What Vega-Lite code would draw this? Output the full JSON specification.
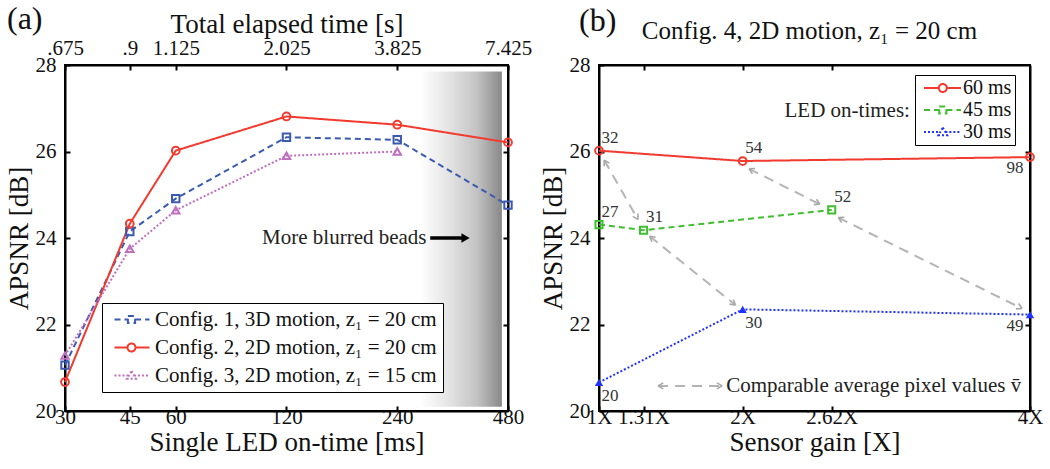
{
  "$schema": "https://vega.github.io/schema/vega-lite/v6.json",
  "background": "white",
  "padding": {"left": 4, "top": 2, "right": 2, "bottom": 2},
  "spacing": 5,
  "resolve": {"scale": {"color": "independent", "shape": "independent", "strokeDash": "independent", "fill": "independent"}, "legend": {"color": "independent", "shape": "independent", "strokeDash": "independent", "fill": "independent"}},
  "config": {
    "font": "Liberation Serif",
    "view": {"stroke": "black", "strokeWidth": 2},
    "axis": {"domainColor": "black", "domainWidth": 2, "tickColor": "black", "tickWidth": 2, "tickSize": -5, "labelColor": "#111", "labelFontSize": 21, "labelFont": "Liberation Serif", "titleFont": "Liberation Serif", "titleFontSize": 27, "titleFontWeight": "normal", "titleColor": "#111", "grid": false, "labelFlush": false, "labelOverlap": false},
    "title": {"font": "Liberation Serif", "fontSize": 32, "fontWeight": "normal", "color": "#111"},
    "legend": {"labelFont": "Liberation Serif", "labelColor": "#111", "labelLimit": 500}
  },
  "datasets": {
    "a": [
      {"ms": 30, "apsnr": 21.06, "cfg": "Config. 1, 3D motion, z₁ = 20 cm"},
      {"ms": 45, "apsnr": 24.15, "cfg": "Config. 1, 3D motion, z₁ = 20 cm"},
      {"ms": 60, "apsnr": 24.91, "cfg": "Config. 1, 3D motion, z₁ = 20 cm"},
      {"ms": 120, "apsnr": 26.33, "cfg": "Config. 1, 3D motion, z₁ = 20 cm"},
      {"ms": 240, "apsnr": 26.27, "cfg": "Config. 1, 3D motion, z₁ = 20 cm"},
      {"ms": 480, "apsnr": 24.76, "cfg": "Config. 1, 3D motion, z₁ = 20 cm"},
      {"ms": 30, "apsnr": 20.67, "cfg": "Config. 2, 2D motion, z₁ = 20 cm"},
      {"ms": 45, "apsnr": 24.33, "cfg": "Config. 2, 2D motion, z₁ = 20 cm"},
      {"ms": 60, "apsnr": 26.02, "cfg": "Config. 2, 2D motion, z₁ = 20 cm"},
      {"ms": 120, "apsnr": 26.81, "cfg": "Config. 2, 2D motion, z₁ = 20 cm"},
      {"ms": 240, "apsnr": 26.62, "cfg": "Config. 2, 2D motion, z₁ = 20 cm"},
      {"ms": 480, "apsnr": 26.21, "cfg": "Config. 2, 2D motion, z₁ = 20 cm"},
      {"ms": 30, "apsnr": 21.28, "cfg": "Config. 3, 2D motion, z₁ = 15 cm"},
      {"ms": 45, "apsnr": 23.75, "cfg": "Config. 3, 2D motion, z₁ = 15 cm"},
      {"ms": 60, "apsnr": 24.64, "cfg": "Config. 3, 2D motion, z₁ = 15 cm"},
      {"ms": 120, "apsnr": 25.9, "cfg": "Config. 3, 2D motion, z₁ = 15 cm"},
      {"ms": 240, "apsnr": 26.0, "cfg": "Config. 3, 2D motion, z₁ = 15 cm"}
    ],
    "b": [
      {"gain": 1, "apsnr": 26.02, "led": "60 ms", "pix": 32},
      {"gain": 2, "apsnr": 25.78, "led": "60 ms", "pix": 54},
      {"gain": 4, "apsnr": 25.87, "led": "60 ms", "pix": 98},
      {"gain": 1, "apsnr": 24.31, "led": "45 ms", "pix": 27},
      {"gain": 1.31, "apsnr": 24.18, "led": "45 ms", "pix": 31},
      {"gain": 2.62, "apsnr": 24.65, "led": "45 ms", "pix": 52},
      {"gain": 1, "apsnr": 20.66, "led": "30 ms", "pix": 20},
      {"gain": 2, "apsnr": 22.35, "led": "30 ms", "pix": 30},
      {"gain": 4, "apsnr": 22.23, "led": "30 ms", "pix": 49}
    ],
    "arrows": [
      {"x1": 1.036, "y1": 25.8, "x2": 1.271, "y2": 24.43},
      {"x1": 1.353, "y1": 24.04, "x2": 1.95, "y2": 22.45},
      {"x1": 2.045, "y1": 25.6, "x2": 2.537, "y2": 24.78},
      {"x1": 2.666, "y1": 24.47, "x2": 3.944, "y2": 22.37},
      {"x1": 1.411, "y1": 20.58, "x2": 1.857, "y2": 20.58}
    ],
    "heads": [
      {"x1": 1.271, "y1": 24.43, "x2": 1.2713, "y2": 24.5687},
      {"x1": 1.271, "y1": 24.43, "x2": 1.235, "y2": 24.5},
      {"x1": 1.036, "y1": 25.8, "x2": 1.0357, "y2": 25.661},
      {"x1": 1.036, "y1": 25.8, "x2": 1.072, "y2": 25.73},
      {"x1": 1.95, "y1": 22.45, "x2": 1.9348, "y2": 22.5792},
      {"x1": 1.95, "y1": 22.45, "x2": 1.9087, "y2": 22.471},
      {"x1": 1.353, "y1": 24.04, "x2": 1.3682, "y2": 23.9108},
      {"x1": 1.353, "y1": 24.04, "x2": 1.3943, "y2": 24.019},
      {"x1": 2.537, "y1": 24.78, "x2": 2.514, "y2": 24.896},
      {"x1": 2.537, "y1": 24.78, "x2": 2.4953, "y2": 24.7719},
      {"x1": 2.045, "y1": 25.6, "x2": 2.068, "y2": 25.484},
      {"x1": 2.045, "y1": 25.6, "x2": 2.0867, "y2": 25.6081},
      {"x1": 3.944, "y1": 22.37, "x2": 3.9208, "y2": 22.4854},
      {"x1": 3.944, "y1": 22.37, "x2": 3.9024, "y2": 22.3611},
      {"x1": 2.666, "y1": 24.47, "x2": 2.6892, "y2": 24.3546},
      {"x1": 2.666, "y1": 24.47, "x2": 2.7076, "y2": 24.4789},
      {"x1": 1.857, "y1": 20.58, "x2": 1.8208, "y2": 20.6494},
      {"x1": 1.857, "y1": 20.58, "x2": 1.8208, "y2": 20.5106},
      {"x1": 1.411, "y1": 20.58, "x2": 1.4472, "y2": 20.5106},
      {"x1": 1.411, "y1": 20.58, "x2": 1.4472, "y2": 20.6494}
    ]
  },
  "hconcat": [
    {
      "width": 443,
      "height": 346,
      "title": {"text": "(a)", "anchor": "start", "frame": "group", "dx": -58, "dy": 26, "offset": 0},
      "resolve": {"axis": {"x": "independent", "y": "independent"}},
      "layer": [
        {
          "data": {"values": [{}]},
          "mark": {"type": "rect", "fill": {"gradient": "linear", "x1": 0, "x2": 1, "y1": 0, "y2": 0, "stops": [{"offset": 0, "color": "#ffffff"}, {"offset": 0.35, "color": "#e4e4e4"}, {"offset": 0.7, "color": "#c2c2c2"}, {"offset": 1, "color": "#888888"}]}},
          "encoding": {
            "x": {"datum": 277, "type": "quantitative", "scale": {"type": "log", "domain": [30, 480], "nice": false}, "axis": null},
            "x2": {"datum": 462},
            "y": {"datum": 20.1, "type": "quantitative", "scale": {"domain": [20, 28], "nice": false, "zero": false}, "axis": null},
            "y2": {"datum": 27.85}
          }
        },
        {
          "data": {"name": "a"},
          "mark": {"type": "line", "strokeWidth": 2},
          "encoding": {
            "x": {"field": "ms", "type": "quantitative", "scale": {"type": "log", "domain": [30, 480], "nice": false}, "axis": {"orient": "bottom", "values": [30, 45, 60, 120, 240, 480], "title": "Single LED on-time [ms]", "labelPadding": 0, "titlePadding": 2}},
            "y": {"field": "apsnr", "type": "quantitative", "scale": {"domain": [20, 28], "nice": false, "zero": false}, "axis": {"orient": "left", "values": [20, 22, 24, 26, 28], "title": "APSNR [dB]", "labelPadding": 14, "titlePadding": 2}},
            "color": {"field": "cfg", "type": "nominal", "scale": {"domain": ["Config. 1, 3D motion, z₁ = 20 cm", "Config. 2, 2D motion, z₁ = 20 cm", "Config. 3, 2D motion, z₁ = 15 cm"], "range": ["#3b5bb0", "#f23a2e", "#bf6fbf"]}},
            "strokeDash": {"field": "cfg", "type": "nominal", "scale": {"domain": ["Config. 1, 3D motion, z₁ = 20 cm", "Config. 2, 2D motion, z₁ = 20 cm", "Config. 3, 2D motion, z₁ = 15 cm"], "range": [[6, 4], [1, 0], [2, 2]]}}
          }
        },
        {
          "data": {"name": "a"},
          "transform": [{"filter": {"field": "ms", "range": [40, 250]}}],
          "mark": {"type": "point", "filled": false, "strokeWidth": 2, "size": 64, "opacity": 0},
          "encoding": {
            "x": {"field": "ms", "type": "quantitative", "axis": null},
            "y": {"field": "apsnr", "type": "quantitative", "axis": null},
            "color": {"field": "cfg", "type": "nominal",
              "legend": {"orient": "none", "legendX": 37, "legendY": 238, "title": null, "labelFontSize": 21, "symbolSize": 64, "symbolStrokeWidth": 2, "symbolOpacity": 1, "labelOffset": 26, "rowPadding": 6, "padding": 6, "strokeColor": "black", "fillColor": "white",
                "encode": {"legend": {"strokeWidth": {"value": 2.5}}, "symbols": {"fill": {"value": "white"}}}}},
            "shape": {"field": "cfg", "type": "nominal", "scale": {"domain": ["Config. 1, 3D motion, z₁ = 20 cm", "Config. 2, 2D motion, z₁ = 20 cm", "Config. 3, 2D motion, z₁ = 15 cm"], "range": ["M-1,0H2.35M4.15,0H7.75M2.35,-0.9H4.15V0.9H2.35Z", "M-1,0H2.25M4.25,0H7.75M4.25,0A1,1 0 1,1 2.25,0A1,1 0 1,1 4.25,0", "M-1,0H2.61M3.89,0H7.75M3.25,-1.1L4.35,0.8H2.15Z"]}, "legend": {"orient": "none", "legendX": 37, "legendY": 238, "title": null}},
            "strokeDash": {"field": "cfg", "type": "nominal", "legend": {"orient": "none", "legendX": 37, "legendY": 238, "title": null}}
          }
        },
        {
          "data": {"name": "a"},
          "transform": [{"filter": {"field": "cfg", "equal": "Config. 1, 3D motion, z₁ = 20 cm"}}],
          "mark": {"type": "point", "shape": "square", "filled": false, "strokeWidth": 2, "size": 55, "opacity": 1, "color": "#3b5bb0"},
          "encoding": {
            "x": {"field": "ms", "type": "quantitative", "axis": {"orient": "top", "values": [30, 45, 60, 120, 240, 480], "labelExpr": "datum.value==30?'.675':datum.value==45?'.9':datum.value==60?'1.125':datum.value==120?'2.025':datum.value==240?'3.825':'7.425'", "title": "Total elapsed time [s]", "labelPadding": 12, "titlePadding": -1}},
            "y": {"field": "apsnr", "type": "quantitative", "axis": {"orient": "right", "values": [22, 24, 26], "labels": false, "title": null}}
          }
        },
        {
          "data": {"name": "a"},
          "transform": [{"filter": {"field": "cfg", "equal": "Config. 2, 2D motion, z₁ = 20 cm"}}],
          "mark": {"type": "point", "shape": "circle", "filled": false, "strokeWidth": 2, "size": 60, "opacity": 1, "color": "#f23a2e"},
          "encoding": {
            "x": {"field": "ms", "type": "quantitative", "axis": null},
            "y": {"field": "apsnr", "type": "quantitative", "axis": null}
          }
        },
        {
          "data": {"name": "a"},
          "transform": [{"filter": {"field": "cfg", "equal": "Config. 3, 2D motion, z₁ = 15 cm"}}],
          "mark": {"type": "point", "shape": "triangle-up", "filled": false, "strokeWidth": 2, "size": 55, "opacity": 1, "color": "#bf6fbf"},
          "encoding": {
            "x": {"field": "ms", "type": "quantitative", "axis": null},
            "y": {"field": "apsnr", "type": "quantitative", "axis": null}
          }
        },
        {
          "data": {"values": [{"t": "More blurred beads"}]},
          "mark": {"type": "text", "align": "left", "baseline": "middle", "fontSize": 21, "color": "#222"},
          "encoding": {
            "x": {"datum": 103, "type": "quantitative", "axis": null},
            "y": {"datum": 24.0, "type": "quantitative", "axis": null},
            "text": {"field": "t"}
          }
        },
        {
          "data": {"values": [{}]},
          "mark": {"type": "rule", "strokeWidth": 3.5, "color": "black"},
          "encoding": {
            "x": {"datum": 295, "type": "quantitative", "axis": null},
            "x2": {"datum": 362},
            "y": {"datum": 24.0, "type": "quantitative", "axis": null}
          }
        },
        {
          "data": {"values": [{}]},
          "mark": {"type": "point", "shape": "triangle-right", "filled": true, "color": "black", "size": 90, "opacity": 1},
          "encoding": {
            "x": {"datum": 368, "type": "quantitative", "axis": null},
            "y": {"datum": 24.0, "type": "quantitative", "axis": null}
          }
        }
      ]
    },
    {
      "width": 431,
      "height": 346,
      "title": {"text": "(b)", "anchor": "start", "frame": "group", "dx": -20, "dy": 20, "offset": 0},
      "resolve": {"axis": {"x": "independent", "y": "independent"}},
      "layer": [
        {
          "data": {"name": "arrows"},
          "mark": {"type": "rule", "strokeWidth": 2, "color": "#b4b4b4", "strokeDash": [10, 7]},
          "encoding": {
            "x": {"field": "x1", "type": "quantitative", "scale": {"domain": [1, 4], "nice": false, "zero": false}, "axis": null},
            "y": {"field": "y1", "type": "quantitative", "scale": {"domain": [20, 28], "nice": false, "zero": false}, "axis": null},
            "x2": {"field": "x2"},
            "y2": {"field": "y2"}
          }
        },
        {
          "data": {"name": "heads"},
          "mark": {"type": "rule", "strokeWidth": 1.6, "color": "#a8a8a8"},
          "encoding": {
            "x": {"field": "x1", "type": "quantitative", "axis": null},
            "y": {"field": "y1", "type": "quantitative", "axis": null},
            "x2": {"field": "x2"},
            "y2": {"field": "y2"}
          }
        },
        {
          "data": {"values": [{"t": "Comparable average pixel values v̄"}]},
          "mark": {"type": "text", "align": "left", "baseline": "middle", "fontSize": 21, "color": "#222"},
          "encoding": {
            "x": {"datum": 1.885, "type": "quantitative", "axis": null},
            "y": {"datum": 20.58, "type": "quantitative", "axis": null},
            "text": {"field": "t"}
          }
        },
        {
          "data": {"name": "b"},
          "mark": {"type": "line", "strokeWidth": 2},
          "encoding": {
            "x": {"field": "gain", "type": "quantitative", "scale": {"domain": [1, 4], "nice": false, "zero": false}, "axis": {"orient": "bottom", "values": [1, 1.31, 2, 2.62, 4], "labelExpr": "datum.value + 'X'", "title": "Sensor gain [X]", "labelPadding": 0, "titlePadding": 2}},
            "y": {"field": "apsnr", "type": "quantitative", "scale": {"domain": [20, 28], "nice": false, "zero": false}, "axis": {"orient": "left", "values": [20, 22, 24, 26, 28], "title": "APSNR [dB]", "labelPadding": 14, "titlePadding": 2}},
            "color": {"field": "led", "type": "nominal", "scale": {"domain": ["60 ms", "45 ms", "30 ms"], "range": ["#f23a2e", "#3fbf2e", "#2233ff"]}},
            "strokeDash": {"field": "led", "type": "nominal", "scale": {"domain": ["60 ms", "45 ms", "30 ms"], "range": [[1, 0], [6, 4], [2, 2]]}}
          }
        },
        {
          "data": {"name": "b"},
          "transform": [{"filter": {"field": "gain", "range": [1.2, 2.7]}}],
          "mark": {"type": "point", "filled": false, "strokeWidth": 2, "size": 64, "opacity": 0},
          "encoding": {
            "x": {"field": "gain", "type": "quantitative", "axis": null},
            "y": {"field": "apsnr", "type": "quantitative", "axis": null},
            "color": {"field": "led", "type": "nominal",
              "legend": {"orient": "none", "legendX": 316, "legendY": 10, "title": null, "labelFontSize": 20, "symbolSize": 64, "symbolStrokeWidth": 2, "symbolOpacity": 1, "labelOffset": 25, "rowPadding": 2, "padding": 3, "strokeColor": "black", "fillColor": "white",
                "encode": {"legend": {"strokeWidth": {"value": 2.5}}, "symbols": {"fill": {"value": {"expr": "datum.index===2 ? '#2233ff' : 'white'"}}}}}},
            "shape": {"field": "led", "type": "nominal", "scale": {"domain": ["60 ms", "45 ms", "30 ms"], "range": ["M-1,0H2.7M4.7,0H8.25M4.7,0A1,1 0 1,1 2.7,0A1,1 0 1,1 4.7,0", "M-1,0H2.8M4.6,0H8.25M2.8,-0.9H4.6V0.9H2.8Z", "M-1,0H3.06M4.34,0H8.25M3.7,-1.1L4.8,0.8H2.6Z"]}, "legend": {"orient": "none", "legendX": 316, "legendY": 10, "title": null}},
            "strokeDash": {"field": "led", "type": "nominal", "legend": {"orient": "none", "legendX": 316, "legendY": 10, "title": null}}
          }
        },
        {
          "data": {"name": "b"},
          "transform": [{"filter": {"field": "led", "equal": "60 ms"}}],
          "mark": {"type": "point", "shape": "circle", "filled": false, "strokeWidth": 2, "size": 60, "opacity": 1, "color": "#f23a2e"},
          "encoding": {
            "x": {"field": "gain", "type": "quantitative", "axis": {"orient": "top", "values": [1.31, 2, 2.62], "labels": false, "title": "Config. 4, 2D motion, z₁ = 20 cm", "titleFontSize": 25, "titleX": 210, "titlePadding": 21}},
            "y": {"field": "apsnr", "type": "quantitative", "axis": {"orient": "right", "values": [22, 24, 26], "labels": false, "title": null}}
          }
        },
        {
          "data": {"name": "b"},
          "transform": [{"filter": {"field": "led", "equal": "45 ms"}}],
          "mark": {"type": "point", "shape": "square", "filled": false, "strokeWidth": 2, "size": 50, "opacity": 1, "color": "#3fbf2e"},
          "encoding": {
            "x": {"field": "gain", "type": "quantitative", "axis": null},
            "y": {"field": "apsnr", "type": "quantitative", "axis": null}
          }
        },
        {
          "data": {"name": "b"},
          "transform": [{"filter": {"field": "led", "equal": "30 ms"}}],
          "mark": {"type": "point", "shape": "triangle-up", "filled": true, "size": 70, "opacity": 1, "color": "#2233ff"},
          "encoding": {
            "x": {"field": "gain", "type": "quantitative", "axis": null},
            "y": {"field": "apsnr", "type": "quantitative", "axis": null}
          }
        },
        {
          "data": {"name": "b"},
          "transform": [{"filter": {"field": "pix", "oneOf": [32, 54, 27, 31, 52]}}],
          "mark": {"type": "text", "align": "center", "baseline": "middle", "fontSize": 17, "color": "#333", "dx": 11, "dy": -13},
          "encoding": {
            "x": {"field": "gain", "type": "quantitative", "axis": null},
            "y": {"field": "apsnr", "type": "quantitative", "axis": null},
            "text": {"field": "pix"}
          }
        },
        {
          "data": {"name": "b"},
          "transform": [{"filter": {"field": "pix", "oneOf": [30, 20]}}],
          "mark": {"type": "text", "align": "center", "baseline": "middle", "fontSize": 17, "color": "#333", "dx": 11, "dy": 14},
          "encoding": {
            "x": {"field": "gain", "type": "quantitative", "axis": null},
            "y": {"field": "apsnr", "type": "quantitative", "axis": null},
            "text": {"field": "pix"}
          }
        },
        {
          "data": {"name": "b"},
          "transform": [{"filter": {"field": "pix", "oneOf": [98, 49]}}],
          "mark": {"type": "text", "align": "center", "baseline": "middle", "fontSize": 17, "color": "#333", "dx": -15, "dy": 11},
          "encoding": {
            "x": {"field": "gain", "type": "quantitative", "axis": null},
            "y": {"field": "apsnr", "type": "quantitative", "axis": null},
            "text": {"field": "pix"}
          }
        },
        {
          "data": {"values": [{"t": "LED on-times:"}]},
          "mark": {"type": "text", "align": "right", "baseline": "middle", "fontSize": 21, "color": "#222"},
          "encoding": {
            "x": {"datum": 3.164, "type": "quantitative", "axis": null},
            "y": {"datum": 26.93, "type": "quantitative", "axis": null},
            "text": {"field": "t"}
          }
        }
      ]
    }
  ]
}
